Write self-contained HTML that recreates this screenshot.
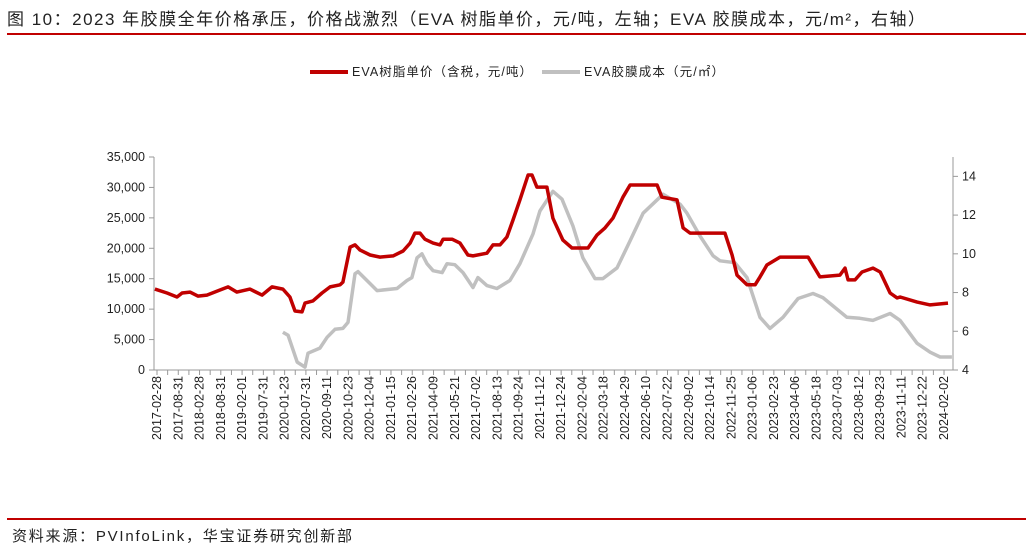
<!DOCTYPE html>
<html><head><meta charset="utf-8"><style>
body{margin:0;width:1029px;height:552px;background:#fff;overflow:hidden;font-family:"Liberation Sans","Noto Sans CJK SC",sans-serif;}
</style></head><body>
<svg width="1029" height="552" xmlns="http://www.w3.org/2000/svg">
<text x="7" y="25" font-size="17" fill="#222" textLength="918" lengthAdjust="spacing" font-family="Liberation Sans, Noto Sans CJK SC, sans-serif">图 10：2023 年胶膜全年价格承压，价格战激烈（EVA 树脂单价，元/吨，左轴；EVA 胶膜成本，元/m²，右轴）</text>
<rect x="7" y="33" width="1019" height="2" fill="#c00000"/>
<g font-size="12.5" fill="#222">
<line x1="310" y1="72" x2="348" y2="72" stroke="#c00000" stroke-width="4"/>
<text x="352" y="76" textLength="180" lengthAdjust="spacing">EVA树脂单价（含税，元/吨）</text>
<line x1="542" y1="72" x2="580" y2="72" stroke="#c0c0c0" stroke-width="4"/>
<text x="584" y="76" textLength="140" lengthAdjust="spacing">EVA胶膜成本（元/㎡）</text>
</g>
<g id="axes"></g>
<g id="marks"></g>
<rect x="7" y="518" width="1019" height="2" fill="#c00000"/>
<text x="12" y="541" font-size="15" fill="#222" textLength="340" lengthAdjust="spacing">资料来源：PVInfoLink，华宝证券研究创新部</text>
</svg>
<script>
const labels=["2017-02-28","2017-08-31","2018-02-28","2018-08-31","2019-02-01","2019-07-31","2020-01-23","2020-07-31","2020-09-11","2020-10-23","2020-12-04","2021-01-15","2021-02-26","2021-04-09","2021-05-21","2021-07-02","2021-08-13","2021-09-24","2021-11-12","2021-12-24","2022-02-04","2022-03-18","2022-04-29","2022-06-10","2022-07-22","2022-09-02","2022-10-14","2022-11-25","2023-01-06","2023-02-23","2023-04-06","2023-05-18","2023-07-03","2023-08-12","2023-09-23","2023-11-11","2023-12-22","2024-02-02"];
const leftTicks=[0,5000,10000,15000,20000,25000,30000,35000];
const rightTicks=[4,6,8,10,12,14];
const redT=[-0.07,0.33,0.66,0.83,1.09,1.35,1.65,2.08,2.35,2.64,3.07,3.47,3.80,4.16,4.39,4.56,4.79,4.89,5.15,5.45,5.72,6.05,6.14,6.38,6.54,6.71,7.04,7.37,7.80,8.13,8.36,8.52,8.69,8.85,9.12,9.35,9.45,9.75,10.01,10.27,10.44,10.90,11.10,11.33,11.56,11.76,11.99,12.26,12.39,12.55,12.88,13.08,13.41,13.71,14.24,14.54,14.80,15.06,15.39,15.63,16.52,16.68,17.18,17.38,17.61,18.76,19.00,19.16,19.49,19.76,19.92,20.15,20.58,21.51,21.90,22.56,22.73,22.83,23.06,23.29,23.65,23.89,24.22,24.45,24.55,25.11,25.54,26.13];
const redV=[13300,12650,12000,12650,12800,12150,12300,13150,13650,12800,13300,12300,13650,13300,12000,9700,9550,11000,11350,12650,13650,14000,14450,20200,20550,19700,18900,18550,18750,19550,20850,22500,22500,21500,20850,20550,21500,21500,20850,18900,18750,19200,20550,20550,21850,24650,27950,32050,32050,30050,30050,24950,21350,20050,20050,22200,23350,24950,28400,30400,30400,28400,27950,23350,22500,22500,18900,15600,14000,14000,15300,17250,18550,18550,15300,15600,16750,14800,14800,16100,16750,16100,12650,11850,12000,11150,10700,11000];
const greyT=[4.16,4.33,4.63,4.89,4.99,5.38,5.62,5.88,6.14,6.31,6.54,6.64,7.04,7.27,7.93,8.26,8.42,8.59,8.75,8.92,9.12,9.42,9.58,9.84,10.11,10.44,10.60,10.90,11.23,11.66,11.99,12.42,12.65,13.08,13.38,13.74,14.07,14.47,14.73,15.20,15.63,16.06,16.72,17.28,17.51,17.94,18.37,18.60,19.09,19.49,19.92,20.25,20.68,21.18,21.67,22.00,22.79,23.22,23.65,24.22,24.55,25.11,25.54,25.87,26.26];
const greyV=[5.95,5.79,4.41,4.15,4.87,5.13,5.69,6.10,6.15,6.46,8.97,9.08,8.46,8.10,8.21,8.62,8.77,9.79,10.00,9.49,9.13,9.03,9.49,9.44,9.03,8.26,8.77,8.36,8.21,8.62,9.49,11.03,12.21,13.23,12.82,11.44,9.79,8.72,8.72,9.28,10.67,12.10,13.08,12.56,12.10,10.92,9.90,9.64,9.54,8.77,6.72,6.15,6.72,7.69,7.95,7.74,6.72,6.67,6.56,6.92,6.56,5.38,4.92,4.67,4.67];

const NS="http://www.w3.org/2000/svg";
const X0=157,XU=30.27,PL=154,PR=953,PB=370,PT=157;
const xS=t=>X0+t*XU;
const yL=v=>PB-v*(PB-PT)/35000;
const yR=v=>PB-(v-4)*(PB-PT)/11;
function mk(tag,attrs,parent){const e=document.createElementNS(NS,tag);for(const k in attrs)e.setAttribute(k,attrs[k]);parent.appendChild(e);return e;}
const ax=document.getElementById('axes'),mk2=document.getElementById('marks');
let e;
e=mk('line',{x1:PL,y1:PT,x2:PL,y2:PB,stroke:'#999'},ax);


e=mk('line',{x1:PR,y1:PT,x2:PR,y2:PB,stroke:'#999'},ax);


e=mk('line',{x1:PL,y1:PB,x2:PR,y2:PB,stroke:'#999'},ax);


leftTicks.forEach(v=>{const y=yL(v);
 mk('line',{x1:PL-5,y1:y,x2:PL,y2:y,stroke:'#999'},ax);
 e=mk('text',{x:PL-9,y:y+4,'font-size':12.5,'text-anchor':'end',fill:'#222'},ax);
 e.textContent=v.toLocaleString('en-US');
 
 });
rightTicks.forEach(v=>{const y=yR(v);
 mk('line',{x1:PR,y1:y,x2:PR+5,y2:y,stroke:'#999'},ax);
 e=mk('text',{x:PR+9,y:y+4,'font-size':12.5,fill:'#222'},ax);
 e.textContent=v;
 
 });
const step=26/(labels.length-1);
for(let i=0;i<labels.length;i++){const x=xS(i*step);
 mk('line',{x1:x,y1:PB,x2:x,y2:PB+5,stroke:'#999'},ax);
 if(i<labels.length-1){const xm=xS((i+0.5)*step);mk('line',{x1:xm,y1:PB,x2:xm,y2:PB+5,stroke:'#999'},ax);}
 e=mk('text',{x:0,y:0,'font-size':12.5,'text-anchor':'end',fill:'#222',transform:`translate(${x+4},${PB+6}) rotate(-90)`},ax);
 e.textContent=labels[i];
 
 }
const gp=greyT.map((t,i)=>xS(t).toFixed(1)+','+yR(greyV[i]).toFixed(1)).join(' ');
e=mk('polyline',{points:gp,fill:'none',stroke:'#c0c0c0','stroke-width':3.5,'stroke-linejoin':'round'},mk2);


const rp=redT.map((t,i)=>xS(t).toFixed(1)+','+yL(redV[i]).toFixed(1)).join(' ');
e=mk('polyline',{points:rp,fill:'none',stroke:'#c00000','stroke-width':3.5,'stroke-linejoin':'round'},mk2);


</script>
</body></html>
